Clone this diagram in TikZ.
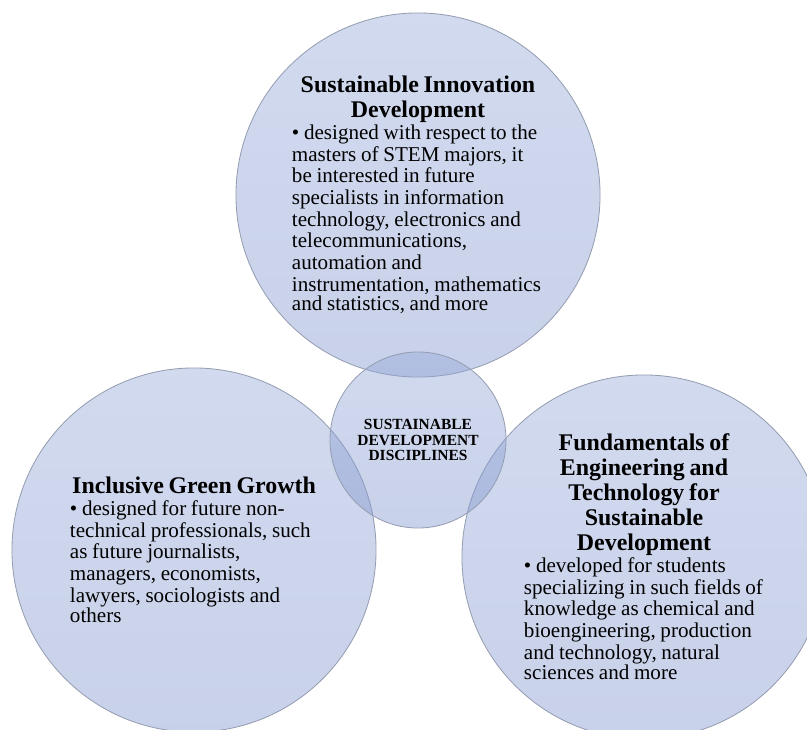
\documentclass[tikz,border=0pt]{standalone}
\usepackage{fontspec}
\setmainfont{Liberation Serif}
\usetikzlibrary{positioning}
\definecolor{venntop}{RGB}{146,166,215}
\definecolor{vennbot}{RGB}{124,146,204}
\definecolor{vennrim}{RGB}{150,158,178}
\newcommand{\headfont}{\bfseries\fontsize{17}{17.8}\selectfont}
\newcommand{\bodyfont}{\fontsize{15}{15.4}\selectfont}
\hyphenpenalty=10000

\begin{document}
\begin{tikzpicture}
[x=0.025cm, y=-0.025cm,
disc/.style ={circle, draw=vennrim, line width=0.6pt, top color=venntop,
bottom color=vennbot, fill opacity=0.42, draw opacity=1, text opacity=1,
minimum size=9.1cm, inner sep=0pt, align=left},
hub/.style ={disc, minimum size=4.4cm, align=center,
font=\bfseries\fontsize{11}{11.3}\selectfont}]
\useasboundingbox (0,0) rectangle (807,729);
\clip (0,0) rectangle (807,729);

\node [disc, text width=6.3cm]  (sid)  at (418, 195)
{{\centering\headfont Sustainable Innovation\\Development\par}
\bodyfont • designed with respect to the\\
masters of STEM majors, it\\
be interested in future\\
specialists in information\\
technology, electronics and\\
telecommunications,\\
automation and\\
instrumentation, mathematics\\
and statistics, and more};

\node [disc, text width=6.2cm]  (igg)  at (194, 550)
{{\centering\headfont Inclusive Green Growth\par}
\bodyfont • designed for future non-\\
technical professionals, such\\
as future journalists,\\
managers, economists,\\
lawyers, sociologists and\\
others};

\node [disc, text width=6cm]    (fets) at (644, 557)
{{\centering\headfont Fundamentals of\\Engineering and\\Technology for\\Sustainable\\Development\par}
\bodyfont • developed for students\\
specializing in such fields of\\
knowledge as chemical and\\
bioengineering, production\\
and technology, natural\\
sciences and more};

\node [hub]                     (sdd)  at (418, 440)
{SUSTAINABLE\\DEVELOPMENT\\DISCIPLINES};

\end{tikzpicture}
\end{document}
